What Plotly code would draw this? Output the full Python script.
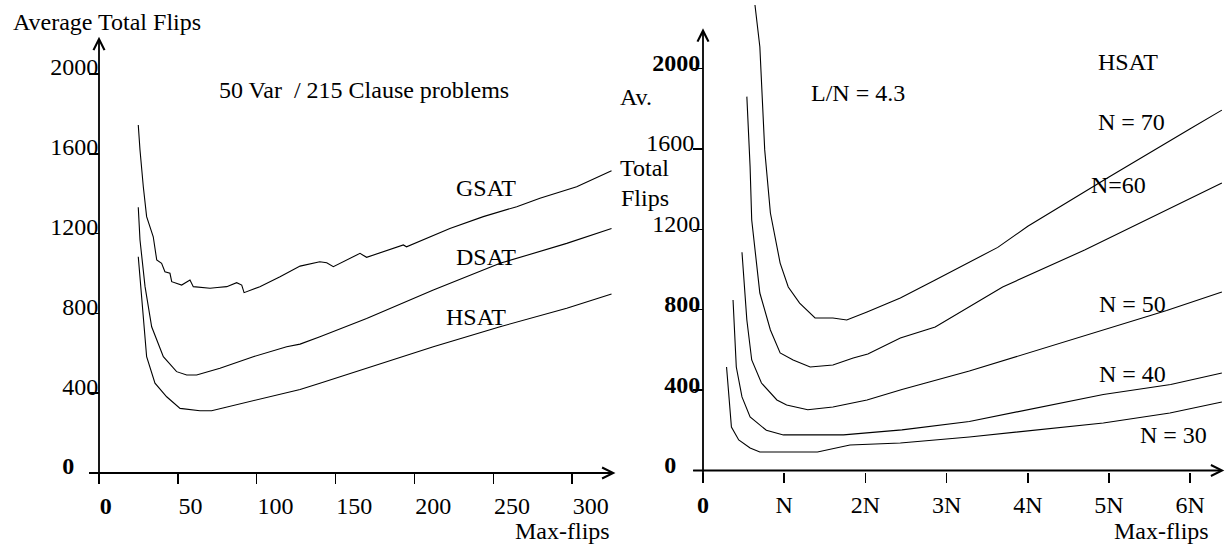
import plotly.graph_objects as go

W, H = 1227, 544
FONT = "Liberation Serif"
FS = 24

# ---------------- data: left panel (50 Var / 215 Clause problems) ----------------
gsat_x = [24.9, 26, 28.1, 30.2, 34.4, 36.6, 39.7, 41.8, 45, 46.1, 52.4, 55, 57.7, 59.8, 70.4, 75, 81,
          87.3, 90.5, 92, 102, 114.8, 127.5, 140, 144.4, 148.6, 165.5, 169.7, 193, 195, 222.5,
          243.7, 264.9, 279.6, 302.9, 325]
gsat_y = [1744, 1619, 1435, 1285, 1184, 1068, 1051, 1009, 1001, 959, 942, 955, 967, 934, 926, 930, 934,
          954, 942, 904, 934, 984, 1037, 1059, 1054, 1034, 1101, 1081, 1143, 1134, 1226,
          1285, 1335, 1377, 1435, 1515]

dsat_x = [24.9, 26, 29.2, 33.4, 40.8, 49.2, 55.6, 61.9, 76.7, 97.8, 119, 127.5, 140.1, 169.7, 212,
          254.3, 296.6, 325]
dsat_y = [1332, 1168, 934, 733, 583, 508, 491, 491, 525, 583, 633, 646, 683, 775, 917,
          1051, 1151, 1226]

hsat_x = [24.9, 27, 30.2, 35.5, 42.9, 51.4, 64, 71.4, 87.1, 108.4, 127.5, 140.1, 169.7, 212,
          254.3, 296.6, 325]
hsat_y = [1084, 867, 583, 450, 382, 324, 312, 312, 341, 382, 419, 450, 525, 633,
          733, 826, 897]

left_xticks = [0, 50, 100, 150, 200, 250, 300]
left_xticklabels = ["<b>0</b>", "50", "100", "150", "200", "250", "300"]
left_yticks = [0, 400, 800, 1200, 1600, 2000]
left_yticklabels = ["<b>0</b>\u00a0\u00a0\u00a0\u00a0", "400", "800", "1200", "1600", "2000"]

# ---------------- data: right panel (HSAT, L/N = 4.3), x in units of N ----------------
n70_x = [0.64, 0.70, 0.76, 0.83, 0.95, 1.05, 1.19, 1.38, 1.60, 1.77, 2.02, 2.43, 2.86, 3.63, 4.0, 5.0, 6.0, 6.39]
n70_y = [2316, 2108, 1595, 1281, 1032, 913, 833, 759, 759, 749, 789, 858, 948, 1110, 1215, 1460, 1700, 1793]

n60_x = [0.54, 0.58, 0.60, 0.70, 0.83, 0.95, 1.11, 1.32, 1.60, 1.85, 2.03, 2.43, 2.86, 3.69, 4.70, 6.39]
n60_y = [1860, 1510, 1246, 883, 699, 585, 550, 515, 525, 560, 580, 659, 714, 913, 1097, 1430]

n50_x = [0.48, 0.54, 0.60, 0.72, 0.91, 1.03, 1.29, 1.60, 2.02, 2.45, 3.28, 4.10, 4.93, 5.71, 6.39]
n50_y = [1086, 749, 550, 435, 351, 326, 302, 316, 351, 403, 495, 596, 696, 796, 888]

n40_x = [0.37, 0.41, 0.48, 0.58, 0.78, 0.99, 1.73, 2.45, 3.28, 4.10, 4.93, 5.76, 6.39]
n40_y = [848, 515, 366, 266, 200, 177, 177, 202, 244, 311, 378, 428, 485]

n30_x = [0.29, 0.35, 0.44, 0.58, 0.70, 1.41, 1.81, 2.43, 3.28, 4.10, 4.93, 5.75, 6.39]
n30_y = [515, 216, 152, 112, 92, 92, 127, 137, 167, 201, 236, 286, 341]

right_xticks = [0, 1, 2, 3, 4, 5, 6]
right_xticklabels = ["<b>0</b>", "N", "2N", "3N", "4N", "5N", "6N"]
right_yticks = [0, 400, 800, 1200, 1600, 2000]
right_yticklabels = ["<b>0</b>\u00a0\u00a0\u00a0\u00a0", "<b>400</b>", "<b>800</b>", "1200",
                     "1600\u00a0", "<b>2000</b>"]

# ---------------- pixel calibration (layout only) ----------------
L_X0, L_XS, L_Y0, L_YS = 99.0, 1.577, 473.0, 0.1995
R_X0, R_XS, R_Y0, R_YS = 703.0, 81.2, 470.5, 0.201
L_DOM = (0.0, 630.0)
R_DOM = (640.0, 1227.0)


def xr(dom, x0, xs):
    return [(dom[0] - x0) / xs, (dom[1] - x0) / xs]


def yr(y0, ys):
    return [(y0 - H) / ys, y0 / ys]


fig = go.Figure()
line = dict(color="black", width=1.1)
for xs_, ys_ in [(gsat_x, gsat_y), (dsat_x, dsat_y), (hsat_x, hsat_y)]:
    fig.add_trace(go.Scatter(x=xs_, y=ys_, mode="lines", line=line, xaxis="x", yaxis="y",
                             hoverinfo="skip"))
for xs_, ys_ in [(n70_x, n70_y), (n60_x, n60_y), (n50_x, n50_y), (n40_x, n40_y), (n30_x, n30_y)]:
    fig.add_trace(go.Scatter(x=xs_, y=ys_, mode="lines", line=line, xaxis="x2", yaxis="y2",
                             hoverinfo="skip"))

tickfont = dict(family=FONT, size=FS, color="black")
common = dict(showgrid=False, zeroline=False, showline=False, ticks="outside", ticklen=10,
              tickwidth=1.5, tickcolor="black", tickfont=tickfont, anchor="free", fixedrange=True)

fig.update_layout(
    width=W, height=H, margin=dict(l=0, r=0, t=0, b=0),
    paper_bgcolor="white", plot_bgcolor="white", showlegend=False,
    xaxis=dict(domain=[L_DOM[0] / W, L_DOM[1] / W], range=xr(L_DOM, L_X0, L_XS),
               position=(H - L_Y0) / H, tickvals=left_xticks, ticktext=left_xticklabels,
               ticklabelposition="outside right", ticklabelstandoff=11, **common),
    yaxis=dict(domain=[0, 1], range=yr(L_Y0, L_YS), position=L_X0 / W,
               tickvals=left_yticks, ticktext=left_yticklabels, ticklabelshift=-7,
               ticklabelstandoff=-14, **common),
    xaxis2=dict(domain=[R_DOM[0] / W, R_DOM[1] / W], range=xr(R_DOM, R_X0, R_XS),
                position=(H - 471.5) / H, tickvals=right_xticks, ticktext=right_xticklabels,
                ticklabelstandoff=2, **common),
    yaxis2=dict(domain=[0, 1], range=yr(R_Y0, R_YS), position=R_X0 / W,
                tickvals=right_yticks, ticktext=right_yticklabels, ticklabelshift=-6,
                ticklabelstandoff=-12, **common),
)

# axis lines with arrow heads
arrow = dict(text="", showarrow=True, arrowhead=5, arrowsize=1.2, arrowwidth=1.8,
             arrowcolor="black", standoff=0, startstandoff=0)
fig.add_annotation(xref="x", yref="y", axref="x", ayref="y", x=327.5, y=0, ax=-6.3, ay=0, **arrow)
fig.add_annotation(xref="x", yref="y", axref="x", ayref="y", x=0, y=2187, ax=0, ay=-50, **arrow)
fig.add_annotation(xref="x2", yref="y2", axref="x2", ayref="y2", x=6.42, y=0, ax=-0.14, ay=0, **arrow)
fig.add_annotation(xref="x2", yref="y2", axref="x2", ayref="y2", x=0, y=2200, ax=0, ay=-56, **arrow)

# text labels (positions in pixels -> paper)
texts = [
    ("Average Total Flips", 11.7, 21.7, "left"),
    ("50 Var\u00a0\u00a0/ 215 Clause problems", 218, 90, "left"),
    ("GSAT", 455, 188, "left"),
    ("DSAT", 455, 257, "left"),
    ("HSAT", 445, 317, "left"),
    ("Max-flips", 611, 531, "right"),
    ("Av.", 619, 97, "left"),
    ("Total", 619, 168, "left"),
    ("Flips", 620, 198, "left"),
    ("L/N = 4.3", 810, 93, "left"),
    ("HSAT", 1097, 62, "left"),
    ("N = 70", 1097, 122, "left"),
    ("N=60", 1090, 185, "left"),
    ("N = 50", 1098, 304, "left"),
    ("N = 40", 1098, 374, "left"),
    ("N = 30", 1139, 435, "left"),
    ("Max-flips", 1210, 531, "right"),
]
for t, px, py, anc in texts:
    fig.add_annotation(xref="paper", yref="paper", x=px / W, y=1 - py / H, text=t, showarrow=False,
                       xanchor=anc, yanchor="middle", font=dict(family=FONT, size=FS, color="black"),
                       borderpad=0)

fig.write_html("out.html", config={"displayModeBar": False, "staticPlot": True},
               post_script="document.body.style.margin='0px';")
